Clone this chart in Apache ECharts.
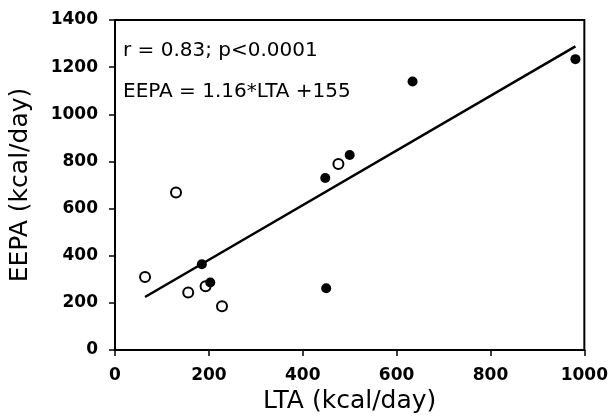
<!DOCTYPE html>
<html>
<head>
<meta charset="utf-8">
<script src="https://cdn.jsdelivr.net/npm/echarts@6/dist/echarts.min.js"></script>
<style>
  html, body { margin: 0; padding: 0; background: #fff; }
  #chart { width: 611px; height: 420px; }
</style>
</head>
<body>
<div id="chart"></div>
<script>
// open circles (LTA, EEPA)
var openPts = [[64, 310], [130, 668], [156, 244], [193, 270], [228, 186], [476, 789]];
// filled circles
var filledPts = [[185, 364], [203, 286], [448, 730], [450, 262], [500, 827], [634, 1139], [981, 1234]];
// regression line end points
var fitLine = [[64, 225], [981, 1288]];
var xTicks = [0, 200, 400, 600, 800, 1000];
var yTicks = [0, 200, 400, 600, 800, 1000, 1200, 1400];
var notes = ['r = 0.83; p<0.0001', 'EEPA = 1.16*LTA +155'];

var myChart = echarts.init(document.getElementById('chart'));

var labelStyle = {
    color: '#000',
    fontFamily: 'DejaVu Sans',
    fontWeight: 'bold',
    fontSize: 17,
    formatter: function (v) { return String(v); }
};

var option = {
    backgroundColor: '#fff',
    animation: false,
    grid: {
        left: 114, right: 22, top: 20, bottom: 70,
        show: true, borderColor: '#000', borderWidth: 2
    },
    xAxis: {
        type: 'value',
        min: xTicks[0], max: xTicks[xTicks.length - 1], interval: 200,
        name: 'LTA (kcal/day)',
        nameLocation: 'middle',
        nameGap: 34,
        nameTextStyle: { color: '#000', fontFamily: 'DejaVu Sans', fontSize: 25 },
        axisLine: { lineStyle: { color: '#000', width: 2 } },
        axisTick: { show: true, inside: false, length: 6, lineStyle: { color: '#000', width: 1.5 } },
        axisLabel: Object.assign({ margin: 17 }, labelStyle),
        splitLine: { show: false }
    },
    yAxis: {
        type: 'value',
        min: yTicks[0], max: yTicks[yTicks.length - 1], interval: 200,
        name: 'EEPA (kcal/day)',
        nameLocation: 'middle',
        nameGap: 82,
        nameRotate: 90,
        nameTextStyle: { color: '#000', fontFamily: 'DejaVu Sans', fontSize: 25 },
        axisLine: { lineStyle: { color: '#000', width: 2 } },
        axisTick: { show: true, inside: false, length: 6, lineStyle: { color: '#000', width: 1.5 } },
        axisLabel: Object.assign({ margin: 17 }, labelStyle),
        splitLine: { show: false }
    },
    graphic: [
        {
            type: 'text', left: 123, top: 41,
            style: { text: notes[0], fill: '#000', font: '20px "DejaVu Sans"' }
        },
        {
            type: 'text', left: 123, top: 82,
            style: { text: notes[1], fill: '#000', font: '20px "DejaVu Sans"' }
        }
    ],
    series: [
        {
            type: 'line',
            data: fitLine,
            symbol: 'none',
            lineStyle: { color: '#000', width: 2.5 },
            z: 2
        },
        {
            type: 'scatter',
            data: openPts,
            symbol: 'circle',
            symbolSize: 10,
            itemStyle: { color: '#fff', borderColor: '#000', borderWidth: 2, opacity: 1 },
            z: 3
        },
        {
            type: 'scatter',
            data: filledPts,
            symbol: 'circle',
            symbolSize: 10,
            itemStyle: { color: '#000', opacity: 1 },
            z: 4
        }
    ]
};

myChart.setOption(option);
</script>
</body>
</html>
